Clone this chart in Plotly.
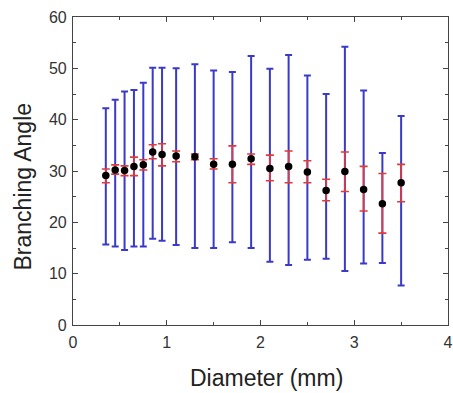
import plotly.graph_objects as go

diameter = [0.35, 0.45, 0.55, 0.65, 0.75, 0.85, 0.95, 1.1, 1.3, 1.5,
            1.7, 1.9, 2.1, 2.3, 2.5, 2.7, 2.9, 3.1, 3.3, 3.5]
angle_mean = [29.1, 30.2, 30.1, 30.9, 31.2, 33.7, 33.2, 32.9, 32.8, 31.3,
              31.3, 32.4, 30.5, 30.9, 29.8, 26.2, 29.9, 26.4, 23.6, 27.7]
range_high = [42.2, 43.9, 45.5, 45.8, 47.2, 50.1, 50.1, 50.0, 50.8, 49.6,
              49.3, 52.4, 49.9, 52.6, 48.6, 45.0, 54.2, 45.7, 33.5, 40.7]
range_low = [15.7, 15.3, 14.6, 15.3, 15.3, 16.8, 16.4, 15.6, 15.0, 15.0,
             16.1, 15.0, 12.3, 11.7, 12.7, 12.9, 10.5, 12.0, 12.1, 7.7]
sd_high = [30.4, 31.2, 31.0, 32.7, 32.2, 35.1, 35.3, 33.9, 33.3, 32.4,
           34.9, 33.3, 33.1, 33.9, 32.0, 28.4, 33.7, 30.9, 29.5, 31.3]
sd_low = [27.7, 29.4, 29.1, 29.1, 30.2, 32.4, 31.0, 31.8, 32.2, 30.4,
          27.7, 31.3, 28.1, 27.7, 27.7, 24.2, 26.0, 22.2, 17.9, 24.0]

x_ticks = [0, 1, 2, 3, 4]
y_ticks = [0, 10, 20, 30, 40, 50, 60]
x_title = "Diameter (mm)"
y_title = "Branching Angle"

FONT = "Liberation Sans, Arial"

fig = go.Figure()
fig.add_trace(go.Scatter(
    x=diameter, y=angle_mean, mode="markers",
    marker=dict(size=1, color="rgba(0,0,0,0)"),
    error_y=dict(type="data", symmetric=False,
                 array=[h - m for h, m in zip(range_high, angle_mean)],
                 arrayminus=[m - l for l, m in zip(range_low, angle_mean)],
                 color="#3a3ac8", thickness=2, width=3.5),
    showlegend=False, hoverinfo="skip"))
fig.add_trace(go.Scatter(
    x=diameter, y=angle_mean, mode="markers",
    marker=dict(size=7.5, color="black"),
    error_y=dict(type="data", symmetric=False,
                 array=[h - m for h, m in zip(sd_high, angle_mean)],
                 arrayminus=[m - l for l, m in zip(sd_low, angle_mean)],
                 color="#e0393a", thickness=1.6, width=4),
    showlegend=False))

axis_common = dict(showgrid=False, zeroline=False, showline=True, linecolor="#444",
                   linewidth=1.2, mirror="ticks", ticks="inside", ticklen=5,
                   tickcolor="#444", tickfont=dict(family=FONT, size=16, color="#333"),
                   automargin=False)
fig.update_xaxes(range=[0, 4], tickvals=x_ticks, ticktext=[str(v) for v in x_ticks],
                 minor=dict(ticks="inside", ticklen=3, dtick=0.5, tickcolor="#444"),
                 ticklabelstandoff=3, **axis_common)
fig.update_yaxes(range=[0, 60], tickvals=y_ticks, ticktext=[str(v) for v in y_ticks],
                 minor=dict(ticks="inside", ticklen=3, dtick=5, tickcolor="#444"),
                 ticklabelstandoff=2, **axis_common)

fig.add_annotation(text=x_title, xref="paper", yref="paper", x=0.516, y=-0.1705,
                   xanchor="center", yanchor="middle", showarrow=False,
                   font=dict(family=FONT, size=23, color="#222"))
fig.add_annotation(text=y_title, xref="paper", yref="paper", x=-0.1307, y=0.4497,
                   xanchor="center", yanchor="middle", showarrow=False, textangle=-90,
                   font=dict(family=FONT, size=23, color="#222"))

fig.update_layout(width=453, height=393, margin=dict(l=73, r=5, t=17, b=68),
                  plot_bgcolor="white", paper_bgcolor="white")
fig.write_html("out.html")
